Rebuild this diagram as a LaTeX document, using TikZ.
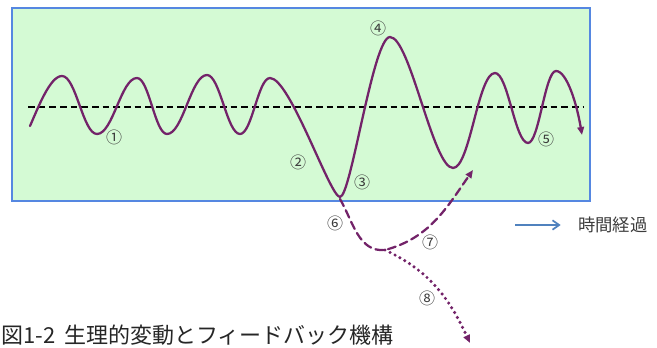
\documentclass[tikz,border=0pt]{standalone}
\usepackage{fontspec}
\setmainfont{Noto Sans CJK JP}
\usetikzlibrary{arrows.meta}
\definecolor{wavepurple}{RGB}{115,35,105}
\definecolor{boxgreen}{RGB}{212,250,212}
\definecolor{boxblue}{RGB}{85,135,225}
\definecolor{timeblue}{RGB}{80,130,190}
\definecolor{labelgray}{RGB}{60,60,60}

\begin{document}
\begin{tikzpicture}[x=0.75pt,y=-0.75pt,
  wave/.style={draw=wavepurple,line width=1.7pt,line cap=round},
  num/.style={font=\fontsize{12}{14}\selectfont,text=labelgray,inner sep=0pt},
  tip/.style={-{Triangle[length=6pt,width=5pt]}}]
\useasboundingbox (0,0) rectangle (657,347);
\clip (0,0) rectangle (657,347);
% panel and mean level
\draw[fill=boxgreen,draw=boxblue,line width=2pt] (12,8) rectangle (590,201);
\draw[dashed,line width=1.3pt,dash pattern=on 5pt off 3pt] (28,107) -- (583,107);
% fluctuation
\draw[wave,tip] (30,126) .. controls (38,108) and (50,76) .. (62,76)
  .. controls (76,76) and (83,134) .. (97,134)
  .. controls (113,134) and (121,78) .. (137,78)
  .. controls (149,78) and (155,134) .. (167,134)
  .. controls (183,134) and (191,75) .. (207,75)
  .. controls (220,75) and (227,134) .. (240,134)
  .. controls (252,134) and (258,78) .. (270,78)
  .. controls (290,78) and (330,197) .. (340,197)
  .. controls (351,197) and (373,37) .. (390,37)
  .. controls (410,37) and (433,168) .. (453,168)
  .. controls (470,168) and (478,73) .. (495,73)
  .. controls (508,73) and (515,143) .. (528,143)
  .. controls (539,143) and (545,71) .. (556,71)
  .. controls (567,71) and (577,105) .. (582,135);
% feedback paths
\coordinate (low) at (340,199);
\coordinate (turn) at (385,250);
\coordinate (back) at (473,170);
\coordinate (away) at (470,343);
\draw[wave,tip,dash pattern=on 6pt off 3.5pt] (low) to[out=-60,in=185] (turn) to[out=15,in=-125] (back);
\draw[wave,tip,line width=2.6pt,dash pattern=on 0pt off 4.2pt] (turn) to[out=-25,in=115] (away);
% labels
\node[num] (n1) at (114,137) {①};
\node[num] (n2) at (298,162) {②};
\node[num] (n3) at (362,182) {③};
\node[num] (n4) at (378,28) {④};
\node[num] (n5) at (546,139) {⑤};
\node[num] (n6) at (335,223) {⑥};
\node[num] (n7) at (430,242) {⑦};
\node[num] (n8) at (427,298) {⑧};
% time axis
\node[anchor=west,inner sep=0pt,text=labelgray,font=\fontsize{13}{15}\selectfont] (time) at (578,225) {時間経過};
\coordinate (tstart) at (515,225);
\draw[draw=timeblue,line width=1.3pt,-{Straight Barb[length=5pt,width=7pt]}] (tstart) -- ([xshift=-13pt]time.west);
% caption
\node[anchor=west,inner sep=0pt,text=black!85,font=\fontsize{16.5}{18}\selectfont] (cap) at (1,335) {図1-2\hspace{0.4em}生理的変動とフィードバック機構};
\end{tikzpicture}
\end{document}
